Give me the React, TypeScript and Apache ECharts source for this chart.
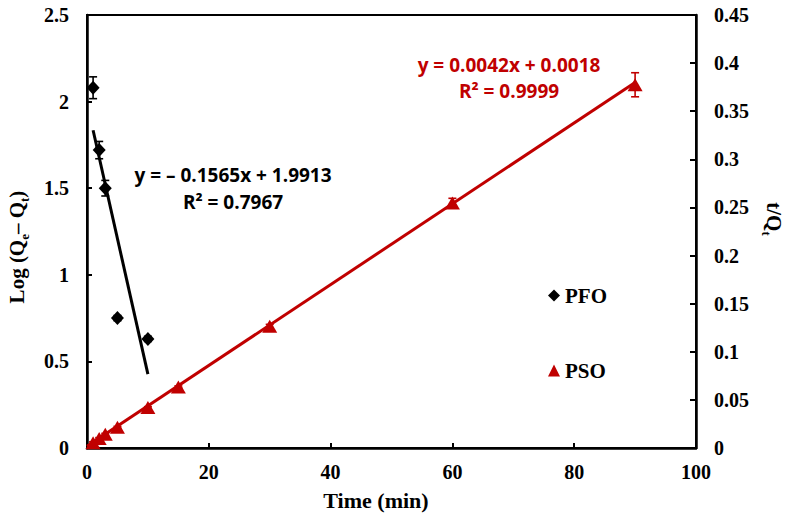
import React, { useEffect, useRef } from "react";
import * as echarts from "echarts";

// ---- Data ----
const pfoTime = [1, 2, 3, 5, 10];
const pfoLog = [2.08, 1.72, 1.5, 0.75, 0.63];
const pfoErr = [0.063, 0.05, 0.045, 0.015, 0.015];
const pfoFit = { slope: -0.1565, intercept: 1.9913, xFrom: 1, xTo: 10 };

const psoTime = [1, 2, 3, 5, 10, 15, 30, 60, 90];
const psoTQ = [0.0055, 0.0098, 0.0142, 0.0215, 0.042, 0.0635, 0.1265, 0.2545, 0.3775];
const psoErr = [0.001, 0.001, 0.001, 0.001, 0.001, 0.001, 0.002, 0.005, 0.0125];
const psoFit = { slope: 0.0042, intercept: 0.0018, xFrom: 0, xTo: 90 };

const xTicks = { min: 0, max: 100, interval: 20 };
const yLeftTicks = { min: 0, max: 2.5, interval: 0.5 };
const yRightTicks = { min: 0, max: 0.45, interval: 0.05 };

const pfoEqText = ["y = – 0.1565x + 1.9913", "R² = 0.7967"];
const psoEqText = ["y = 0.0042x + 0.0018", "R² = 0.9999"];

const RED = "#C00000";
const SERIF = '"Times New Roman", "Liberation Serif", serif';
const SANS = '"Open Sans", "DejaVu Sans", sans-serif';

function errorBarSeries(name: string, xs: number[], ys: number[], es: number[], yAxisIndex: number, color: string) {
  return {
    type: "custom",
    name,
    yAxisIndex,
    z: 3,
    data: xs.map((x, i) => [x, ys[i], es[i]]),
    encode: { x: 0, y: 1 },
    renderItem: (params: any, api: any) => {
      const x = api.value(0);
      const y = api.value(1);
      const e = api.value(2);
      const top = api.coord([x, y + e]);
      const bot = api.coord([x, y - e]);
      const hw = 4;
      const st = { stroke: color, lineWidth: 1.6 };
      return {
        type: "group",
        children: [
          { type: "line", shape: { x1: top[0], y1: top[1], x2: bot[0], y2: bot[1] }, style: st },
          { type: "line", shape: { x1: top[0] - hw, y1: top[1], x2: top[0] + hw, y2: top[1] }, style: st },
          { type: "line", shape: { x1: bot[0] - hw, y1: bot[1], x2: bot[0] + hw, y2: bot[1] }, style: st },
        ],
      };
    },
  };
}

export default function App() {
  const ref = useRef<HTMLDivElement>(null);

  useEffect(() => {
    if (!ref.current) return;
    const chart = echarts.init(ref.current, null, { renderer: "svg" });

    const axisLabelStyle = { fontFamily: SERIF, fontWeight: "bold" as const, fontSize: 20, color: "#000" };
    const fmt = (v: number) => String(parseFloat(v.toFixed(3)));

    const option: any = {
      animation: false,
      backgroundColor: "#fff",
      grid: { left: 87, right: 89, top: 15, bottom: 75, show: true, borderColor: "#000", borderWidth: 2, containLabel: false },
      legend: {
        orient: "vertical",
        left: 543,
        top: 280,
        itemGap: 54,
        itemWidth: 12,
        itemHeight: 12,
        itemStyle: { borderWidth: 0, opacity: 1 },
        textStyle: { fontFamily: SERIF, fontWeight: "bold", fontSize: 21, color: "#000" },
        data: [
          { name: "PFO", icon: "diamond" },
          { name: "PSO", icon: "triangle" },
        ],
      },
      xAxis: {
        type: "value",
        min: xTicks.min,
        max: xTicks.max,
        interval: xTicks.interval,
        axisLine: { show: true, onZero: false, lineStyle: { color: "#000", width: 2.5 } },
        axisTick: { show: true, inside: true, length: 5, lineStyle: { color: "#000", width: 2 } },
        axisLabel: { ...axisLabelStyle, margin: 14 },
        splitLine: { show: false },
      },
      yAxis: [
        {
          type: "value",
          position: "left",
          min: yLeftTicks.min,
          max: yLeftTicks.max,
          interval: yLeftTicks.interval,
          axisLine: { show: true, onZero: false, lineStyle: { color: "#000", width: 2.5 } },
          axisTick: { show: true, inside: true, length: 5, lineStyle: { color: "#000", width: 2 } },
          axisLabel: { ...axisLabelStyle, margin: 18, formatter: fmt },
          splitLine: { show: false },
        },
        {
          type: "value",
          position: "right",
          min: yRightTicks.min,
          max: yRightTicks.max,
          interval: yRightTicks.interval,
          axisLine: { show: true, onZero: false, lineStyle: { color: "#000", width: 2.5 } },
          axisTick: { show: true, inside: true, length: 6, lineStyle: { color: "#000", width: 2 } },
          axisLabel: { ...axisLabelStyle, margin: 18, formatter: fmt },
          splitLine: { show: false },
        },
      ],
      series: [
        {
          type: "line",
          name: "PFO fit",
          yAxisIndex: 0,
          showSymbol: false,
          symbol: "none",
          z: 2,
          lineStyle: { color: "#000", width: 3 },
          data: [
            [pfoFit.xFrom, pfoFit.slope * pfoFit.xFrom + pfoFit.intercept],
            [pfoFit.xTo, pfoFit.slope * pfoFit.xTo + pfoFit.intercept],
          ],
        },
        {
          type: "line",
          name: "PSO fit",
          yAxisIndex: 1,
          showSymbol: false,
          symbol: "none",
          z: 2,
          lineStyle: { color: RED, width: 3 },
          data: [
            [psoFit.xFrom, psoFit.slope * psoFit.xFrom + psoFit.intercept],
            [psoFit.xTo, psoFit.slope * psoFit.xTo + psoFit.intercept],
          ],
        },
        errorBarSeries("PFO err", pfoTime, pfoLog, pfoErr, 0, "#000"),
        errorBarSeries("PSO err", psoTime, psoTQ, psoErr, 1, RED),
        {
          type: "scatter",
          name: "PFO",
          yAxisIndex: 0,
          symbol: "diamond",
          symbolSize: [13, 14],
          z: 4,
          itemStyle: { color: "#000", opacity: 1 },
          data: pfoTime.map((t, i) => [t, pfoLog[i]]),
        },
        {
          type: "scatter",
          name: "PSO",
          yAxisIndex: 1,
          symbol: "triangle",
          symbolSize: [15, 13],
          z: 4,
          itemStyle: { color: RED, opacity: 1 },
          data: psoTime.map((t, i) => [t, psoTQ[i]]),
        },
      ],
      graphic: [
        {
          type: "text",
          x: 376,
          y: 500,
          style: {
            text: "Time (min)",
            fontFamily: SERIF,
            fontWeight: "bold",
            fontSize: 22,
            fill: "#000",
            align: "center",
            verticalAlign: "middle",
          },
        },
        {
          type: "text",
          x: 17,
          y: 247,
          rotation: Math.PI / 2,
          style: {
            text: "Log (Q{sub|e}– Q{sub|t})",
            fontFamily: SERIF,
            fontWeight: "bold",
            fontSize: 21,
            fill: "#000",
            align: "center",
            verticalAlign: "middle",
            rich: {
              sub: { fontFamily: SERIF, fontWeight: "bold", fontSize: 13, fill: "#000", verticalAlign: "bottom", lineHeight: 28 },
            },
          },
        },
        {
          type: "text",
          x: 774,
          y: 219,
          rotation: -Math.PI / 2,
          style: {
            text: "t/Q{sub|t}",
            fontFamily: SERIF,
            fontWeight: "bold",
            fontSize: 21,
            fill: "#000",
            align: "center",
            verticalAlign: "middle",
            rich: {
              sub: { fontFamily: SERIF, fontWeight: "bold", fontSize: 13, fill: "#000", verticalAlign: "bottom", lineHeight: 28 },
            },
          },
        },
        {
          type: "text",
          x: 233,
          y: 175,
          style: { text: pfoEqText[0], fontFamily: SANS, fontWeight: "bold", fontSize: 19, fill: "#000", align: "center", verticalAlign: "middle" },
        },
        {
          type: "text",
          x: 233,
          y: 202,
          style: { text: pfoEqText[1], fontFamily: SANS, fontWeight: "bold", fontSize: 19, fill: "#000", align: "center", verticalAlign: "middle" },
        },
        {
          type: "text",
          x: 509,
          y: 65,
          style: { text: psoEqText[0], fontFamily: SANS, fontWeight: "bold", fontSize: 19, fill: RED, align: "center", verticalAlign: "middle" },
        },
        {
          type: "text",
          x: 509,
          y: 91,
          style: { text: psoEqText[1], fontFamily: SANS, fontWeight: "bold", fontSize: 19, fill: RED, align: "center", verticalAlign: "middle" },
        },
      ],
    };

    chart.setOption(option);
    return () => chart.dispose();
  }, []);

  return <div ref={ref} style={{ position: "fixed", left: 0, top: 0, width: 785, height: 523, background: "#fff" }} />;
}
